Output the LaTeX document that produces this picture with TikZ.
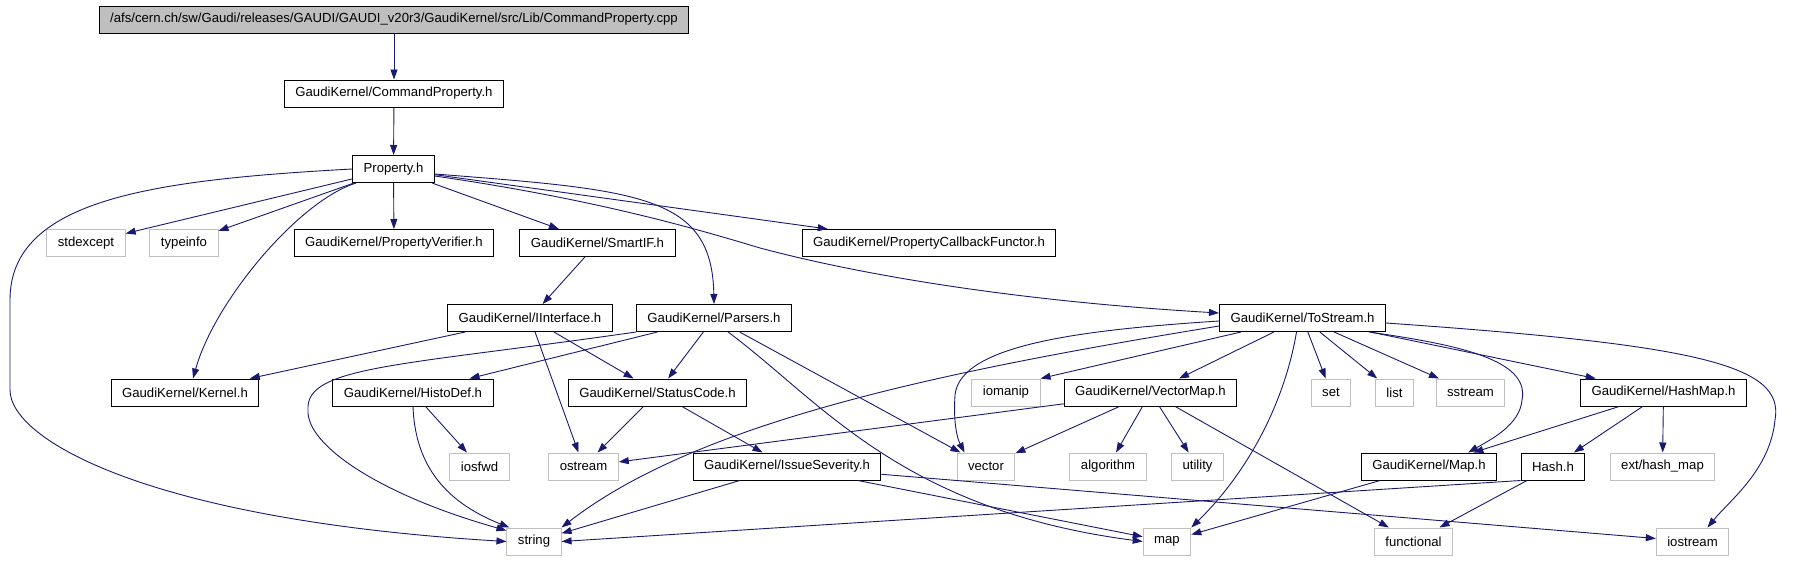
\documentclass[tikz,border=0pt]{standalone}
\usepackage{fontspec}
\setmainfont{Liberation Sans}
\usetikzlibrary{arrows.meta,calc}
\definecolor{edgeblue}{HTML}{191970}
\definecolor{sysgray}{HTML}{BFBFBF}
\begin{document}
\begin{tikzpicture}[x=1pt,y=1pt,
  box/.style={draw=black,line width=1pt,fill=white,minimum height=27pt,inner xsep=11pt,inner ysep=0pt,font=\fontsize{13.15}{15}\selectfont,text=black},
  sys/.style={box,draw=sysgray},
  rootbox/.style={box,fill=sysgray},
  edge/.style={draw=edgeblue,line width=0.9pt,-{Triangle[length=10pt,width=7pt]}}
]
\useasboundingbox (0,0) rectangle (1798,-560);

% row 0-2
\node[rootbox] (root) at (394,-19.5) {/afs/cern.ch/sw/Gaudi/releases/GAUDI/GAUDI\_v20r3/GaudiKernel/src/Lib/CommandProperty.cpp};
\node[box] (cmd) at (394,-93.5) {GaudiKernel/CommandProperty.h};
\node[box] (prop) at (393.5,-169) {Property.h};
% row 3
\node[sys] (stdexcept) at (86,-243) {stdexcept};
\node[sys] (typeinfo) at (184,-243) {typeinfo};
\node[box] (pverif) at (394,-243) {GaudiKernel/PropertyVerifier.h};
\node[box] (smartif) at (597.5,-243) {GaudiKernel/SmartIF.h};
\node[box] (pcb) at (929,-243) {GaudiKernel/PropertyCallbackFunctor.h};
% row 4
\node[box] (iinterface) at (530,-318) {GaudiKernel/IInterface.h};
\node[box] (parsers) at (714,-318) {GaudiKernel/Parsers.h};
\node[box] (tostream) at (1302.5,-318) {GaudiKernel/ToStream.h};
% row 5
\node[box] (kernel) at (185,-392.5) {GaudiKernel/Kernel.h};
\node[box] (histodef) at (413,-392.5) {GaudiKernel/HistoDef.h};
\node[box] (statuscode) at (657.5,-392.5) {GaudiKernel/StatusCode.h};
\node[sys] (iomanip) at (1006,-392.5) {iomanip};
\node[box] (vectormap) at (1150.5,-392.5) {GaudiKernel/VectorMap.h};
\node[sys] (nset) at (1331,-392.5) {set};
\node[sys] (nlist) at (1394.5,-392.5) {list};
\node[sys] (sstream) at (1470.5,-392.5) {sstream};
\node[box] (hashmap) at (1663.5,-392.5) {GaudiKernel/HashMap.h};
% row 6
\node[sys] (iosfwd) at (479.5,-466.5) {iosfwd};
\node[sys] (ostream) at (583.5,-466.5) {ostream};
\node[box] (issue) at (787,-466.5) {GaudiKernel/IssueSeverity.h};
\node[sys] (vector) at (986,-466.5) {vector};
\node[sys] (algorithm) at (1108,-466.5) {algorithm};
\node[sys] (utility) at (1197.5,-466.5) {utility};
\node[box] (maph) at (1429,-466.5) {GaudiKernel/Map.h};
\node[box] (hash) at (1553,-466.5) {Hash.h};
\node[sys] (extmap) at (1662.5,-466.5) {ext/hash\_map};
% row 7
\node[sys] (nstring) at (534,-541.5) {string};
\node[sys] (nmap) at (1167,-541.5) {map};
\node[sys] (functional) at (1413.5,-541.5) {functional};
\node[sys] (iostream) at (1692.5,-541.5) {iostream};

% edges
\draw[edge] (root) -- (cmd);
\draw[edge] (cmd) -- (prop);
\draw[edge] (prop.west) .. controls (150,-180) and (10,-200) .. (10,-300) -- (10,-390) .. controls (10,-440) and (150,-520) .. (nstring.west);
\draw[edge] (prop) -- (stdexcept);
\draw[edge] (prop) -- (typeinfo);
\draw[edge] ($(prop.south west)+(4,0)$) .. controls (300,-200) and (215,-300) .. ($(kernel.north)+(8,0)$);
\draw[edge] (prop) -- (pverif);
\draw[edge] (prop) -- (smartif);
\draw[edge] ($(prop.east)+(0,-5)$) .. controls (640,-190) and (712,-195) .. (parsers.north);
\draw[edge] (prop) -- (pcb);
\draw[edge] ($(prop.east)+(0,-7)$) .. controls (600,-200) and (700,-230) .. (760,-248) .. controls (850,-272) and (1000,-300) .. ($(tostream.west)+(0,5)$);

\draw[edge] (smartif) -- (iinterface);
\draw[edge] (iinterface) -- (kernel);
\draw[edge] (iinterface) -- (ostream);
\draw[edge] (iinterface) -- (statuscode);

\draw[edge] (parsers.south west) .. controls (400,-366) and (305,-366) .. (308,-410) .. controls (306,-445) and (380,-495) .. ($(nstring.north west)+(0,-3)$);
\draw[edge] (parsers) -- (histodef);
\draw[edge] (parsers) -- (statuscode);
\draw[edge] ($(parsers.south)+(14,0)$) .. controls (820,-400) and (900,-510) .. (nmap.west);
\draw[edge] (parsers) -- (vector);

\draw[edge] (histodef) -- (iosfwd);
\draw[edge] (histodef.south) .. controls (415,-460) and (440,-500) .. ($(nstring.north west)+(3,0)$);

\draw[edge] (statuscode) -- (ostream);
\draw[edge] (statuscode) -- (issue);

\draw[edge] (issue) -- (nstring);
\draw[edge] (issue) -- (nmap);
\draw[edge] (issue) -- (iostream);

\draw[edge] ($(tostream.west)+(0,-3)$) .. controls (1080,-330) and (960,-345) .. (955,-395) .. controls (953,-425) and (958,-440) .. ($(vector.north west)+(8,0)$);
\draw[edge] ($(tostream.west)+(0,-8)$) .. controls (950,-370) and (700,-420) .. (nstring.north east);
\draw[edge] ($(tostream.south west)+(22,0)$) -- (iomanip.north east);
\draw[edge] (tostream) -- (vectormap);
\draw[edge] ($(tostream.south)+(-6,0)$) .. controls (1285,-400) and (1250,-470) .. (nmap.north east);
\draw[edge] (tostream) -- (nset);
\draw[edge] (tostream) -- (nlist);
\draw[edge] (tostream) -- (sstream);
\draw[edge] ($(tostream.south east)+(-17,0)$) .. controls (1460,-345) and (1530,-360) .. (1522,-400) .. controls (1520,-425) and (1490,-440) .. ($(maph.north east)+(-29,0)$);
\draw[edge] (tostream) -- (hashmap);
\draw[edge] ($(tostream.east)+(0,-5)$) .. controls (1700,-345) and (1785,-365) .. (1775,-420) .. controls (1770,-470) and (1730,-500) .. ($(iostream.north)+(15,0)$);

\draw[edge] (vectormap) -- (ostream);
\draw[edge] (vectormap) -- (vector);
\draw[edge] (vectormap) -- (algorithm);
\draw[edge] (vectormap) -- (utility);
\draw[edge] (vectormap) -- (functional);

\draw[edge] (hashmap) -- (maph);
\draw[edge] (hashmap) -- (hash);
\draw[edge] (hashmap) -- (extmap);

\draw[edge] (maph) -- (nmap);
\draw[edge] (hash.south west) -- (nstring.east);
\draw[edge] (hash) -- (functional);
\end{tikzpicture}
\end{document}
